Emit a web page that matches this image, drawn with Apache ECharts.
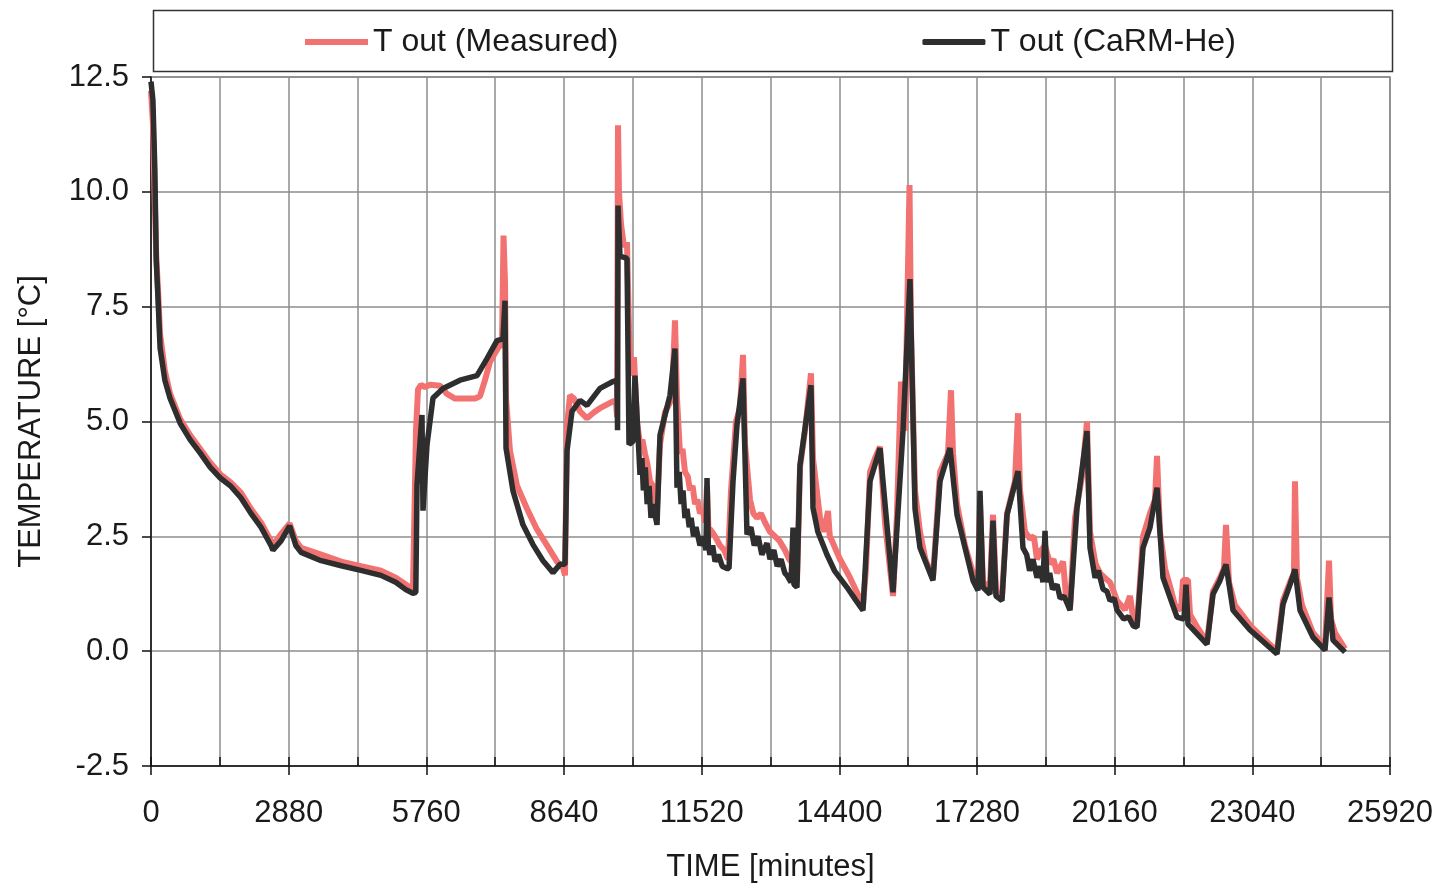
<!DOCTYPE html>
<html>
<head>
<meta charset="utf-8">
<script src="https://cdn.jsdelivr.net/npm/echarts@6/dist/echarts.min.js"></script>
<style>
html,body{margin:0;padding:0;background:#fff;}
#chart{width:1439px;height:888px;}
</style>
</head>
<body>
<div id="chart"></div>
<script>
// Time [minutes] / temperature [°C] pairs
const measuredTime = [0,40,80,110,150,190,290,400,610,820,1030,1240,1450,1660,1880,2090,2300,2510,2550,2720,2900,3030,3140,3560,3980,4390,4810,5120,5330,5480,
5502,5544,5586,5648,5732,5837,6046,6193,6360,6778,6883,6987,7092,7259,7343,7375,7406,7427,7510,7657,7866,8075,8347,8494,8619,8661,
8703,8766,8849,8975,9121,9268,9393,9665,9728,9749,9770,9790,9832,9895,9958,10000,10042,10104,10167,10230,10280,10334,10380,10439,10500,10586,
10648,10753,10899,10962,11004,11067,11120,11172,11230,11276,11330,11381,11430,11485,11540,11590,11632,11660,11736,11800,11904,11990,12071,
12134,12238,12322,12385,12427,12531,12600,12678,12760,12845,12950,13054,13150,13263,13350,13431,13514,13577,13682,13807,13849,13995,14080,14163,14200,14247,14330,14414,14520,14623,14760,14895,
14958,15041,15146,15251,15355,15523,15606,15690,15774,15868,15899,15983,16087,16200,16359,16506,16673,16736,16778,16862,17029,17196,17301,17343,17405,17552,17615,17677,17803,
17908,18075,18138,18180,18284,18389,18470,18535,18620,18703,18808,18880,18954,19080,19143,19226,19330,19477,19581,19644,19760,19853,19950,20063,20140,20209,20376,20481,20550,20627,
20753,20899,21004,21046,21108,21213,21320,21422,21548,21589,21694,21736,21900,22092,22217,22363,22447,22489,22552,22677,23003,23300,23556,
23681,23828,23911,23932,23974,24079,24309,24560,24644,24686,24769,24978];
const measuredTemp = [12.2,11.5,9.8,8.6,7.8,6.9,6.1,5.6,5.05,4.7,4.4,4.1,3.85,3.68,3.45,3.1,2.8,2.4,2.3,2.55,2.78,2.4,2.25,2.1,1.95,1.85,1.75,1.6,1.45,1.35,
2.5,4.8,5.7,5.8,5.75,5.8,5.78,5.6,5.5,5.5,5.55,5.9,6.3,6.6,6.7,9.05,8.0,5.5,4.36,3.6,3.1,2.65,2.2,1.95,1.82,1.65,
4.9,5.57,5.5,5.22,5.07,5.2,5.29,5.44,5.44,5.1,11.45,10.0,9.3,8.8,8.9,7.0,6.0,6.4,5.0,4.5,4.6,4.3,4.1,3.7,3.6,3.1,
4.5,5.2,5.5,7.2,5.5,4.3,4.4,3.9,3.8,3.5,3.6,3.2,3.3,3.0,3.1,2.8,3.6,2.7,2.6,2.5,2.3,2.2,2.0,
3.5,5.0,5.3,6.45,4.5,3.3,3.0,2.9,3.0,2.8,2.6,2.5,2.4,2.2,2.0,1.9,1.5,4.0,4.8,6.05,4.2,2.9,2.6,3.05,2.5,2.4,2.2,2.0,1.8,1.6,1.3,1.0,
1.8,3.9,4.2,4.45,2.8,1.2,3.0,5.87,4.8,10.15,7.0,3.5,2.6,2.0,1.6,3.9,4.3,5.68,4.3,3.2,2.3,1.7,1.4,3.2,1.5,1.4,2.97,1.3,1.2,
3.0,3.7,5.18,3.5,2.6,2.45,2.5,2.0,2.2,2.3,1.9,2.0,1.7,1.95,1.2,0.95,2.9,3.8,5.0,2.6,1.9,1.7,1.6,1.5,1.3,1.1,0.9,1.2,0.7,0.55,
2.5,3.0,3.3,4.25,2.6,1.8,1.4,1.0,0.9,1.55,1.55,0.8,0.5,0.2,1.3,1.6,1.8,2.75,1.5,1.0,0.55,0.25,0.0,
1.1,1.5,1.7,3.7,1.6,1.0,0.4,0.1,1.97,0.7,0.4,0.05];

const modelTime = [0,40,80,110,150,190,290,400,610,820,1030,1240,1450,1660,1880,2090,2300,2510,2550,2720,2900,3030,3140,3560,3980,4390,4810,5120,5330,5480,5540,
5565,5669,5690,5774,5899,6109,6464,6820,7029,7238,7364,7406,7427,7573,7782,7991,8201,8410,8556,8661,
8703,8807,8975,9121,9393,9665,9749,9760,9770,9811,9958,10000,10083,10125,10230,10270,10300,10340,10380,10420,10460,10502,10586,
10648,10857,10962,11004,11050,11090,11130,11170,11213,11260,11300,11350,11400,11485,11550,11610,11632,11660,11694,11750,11800,11870,11950,12050,12092,
12176,12259,12385,12468,12550,12620,12700,12780,12887,12950,13030,13100,13180,13260,13305,13389,13431,13450,13514,
13577,13807,13849,13950,14142,14300,14560,14750,14895,15041,15251,15523,15732,15878,15983,16087,16359,16506,16715,16862,17196,17301,17343,17405,17552,17615,17677,17803,
17908,18138,18242,18320,18380,18450,18535,18600,18661,18703,18745,18800,18860,18954,19020,19100,19226,
19372,19581,19644,19750,19820,19916,20000,20063,20150,20209,20350,20450,20550,20627,
20753,20899,21046,21171,21464,21610,21652,21694,22092,22217,22363,22489,22636,22991,23556,
23681,23828,23932,24037,24309,24560,24644,24727,24978];
const modelTemp = [12.4,12.0,10.5,8.5,7.6,6.6,5.9,5.5,4.96,4.6,4.31,4.0,3.77,3.6,3.34,3.0,2.7,2.3,2.2,2.4,2.73,2.3,2.15,1.97,1.86,1.76,1.65,1.5,1.34,1.26,1.28,
3.62,5.14,3.06,4.49,5.51,5.72,5.9,6.0,6.37,6.76,6.8,7.63,4.42,3.49,2.75,2.32,1.97,1.71,1.89,1.89,
4.36,5.22,5.46,5.35,5.72,5.87,5.9,4.81,9.7,8.6,8.55,4.5,4.57,6.0,3.84,4.2,3.5,4.0,3.2,3.6,2.9,3.2,2.75,
4.7,5.57,6.59,3.56,3.9,3.2,3.5,2.9,3.1,2.7,2.9,2.5,2.7,2.3,2.5,2.2,3.77,2.3,2.1,2.3,1.95,2.1,1.85,1.8,1.8,
3.7,4.92,5.94,2.54,2.7,2.3,2.5,2.1,2.35,2.0,2.2,1.85,2.0,1.7,1.65,1.5,2.69,1.45,1.39,
4.05,5.79,3.12,2.6,2.1,1.75,1.39,1.1,0.89,3.7,4.42,1.28,4.8,8.1,3.1,2.25,1.54,3.7,4.42,2.97,1.54,1.32,3.49,1.39,1.24,2.84,1.2,1.1,
2.97,3.92,2.25,2.1,1.75,2.0,1.6,1.85,1.5,2.62,1.5,1.7,1.35,1.45,1.15,1.2,0.89,
3.12,4.79,2.25,1.6,1.75,1.35,1.3,1.1,1.15,0.9,0.7,0.75,0.55,0.52,
2.25,2.69,3.56,1.6,0.74,0.7,1.45,0.59,0.15,1.24,1.54,1.89,0.89,0.46,-0.06,
1.02,1.45,1.78,0.89,0.3,0.02,1.17,0.24,-0.02];

const xTicks = [0,2880,5760,8640,11520,14400,17280,20160,23040,25920];
const yTicks = [-2.5,0,2.5,5,7.5,10,12.5];

const measured = measuredTime.map((t,i)=>[t,measuredTemp[i]]);
const model = modelTime.map((t,i)=>[t,modelTemp[i]]);

const FONT = '"Liberation Sans", Arial, sans-serif';
const chart = echarts.init(document.getElementById('chart'));
chart.setOption({
  animation:false,
  backgroundColor:'#fff',
  textStyle:{fontFamily:FONT},
  graphic:[{type:'rect',left:151,top:8,shape:{width:1239,height:61},style:{fill:'none',stroke:'#333',lineWidth:1.5},z:0}],
  legend:{
    top:26,left:305,padding:0,itemWidth:63,itemHeight:6,itemGap:304,
    textStyle:{fontSize:32,color:'#1a1a1a',fontFamily:FONT},
    data:[{name:'T out (Measured)',icon:'rect'},{name:'T out (CaRM-He)',icon:'roundRect'}]
  },
  grid:{left:151,right:49,top:77,bottom:119,show:true,borderColor:'#888',borderWidth:1.5},
  xAxis:[{
    type:'value',min:xTicks[0],max:xTicks[xTicks.length-1],interval:xTicks[1]-xTicks[0],
    name:'TIME [minutes]',nameLocation:'middle',nameGap:86,
    nameTextStyle:{fontSize:31,color:'#1a1a1a',fontFamily:FONT},
    axisLine:{show:true,onZero:false,lineStyle:{color:'#111',width:1.5}},
    axisTick:{show:true,inside:false,length:9,lineStyle:{color:'#111',width:1.5}},
    axisLabel:{fontSize:31,color:'#1a1a1a',margin:32,fontFamily:FONT,showMaxLabel:true,showMinLabel:true,formatter:v=>String(v)},
    splitLine:{show:false}
  },{
    type:'value',min:xTicks[0],max:xTicks[xTicks.length-1],interval:(xTicks[1]-xTicks[0])/2,
    position:'bottom',
    axisLine:{show:false,onZero:false},
    axisTick:{show:true,inside:true,length:9,lineStyle:{color:'#111',width:1.5}},
    axisLabel:{show:false},
    splitLine:{show:true,lineStyle:{color:'#8c8c8c',width:1.5}}
  }],
  yAxis:{
    type:'value',min:yTicks[0],max:yTicks[yTicks.length-1],interval:yTicks[1]-yTicks[0],
    name:'TEMPERATURE [°C]',nameLocation:'middle',nameGap:104,
    nameTextStyle:{fontSize:31,color:'#1a1a1a',fontFamily:FONT},
    axisLine:{show:true,onZero:false,lineStyle:{color:'#111',width:1.5}},
    axisTick:{show:true,inside:false,length:9,lineStyle:{color:'#111',width:1.5}},
    axisLabel:{fontSize:31,color:'#1a1a1a',margin:22,fontFamily:FONT,formatter:v=>v.toFixed(1)},
    splitLine:{show:true,lineStyle:{color:'#8c8c8c',width:1.5}}
  },
  series:[{
    name:'T out (Measured)',type:'line',xAxisIndex:0,data:measured,showSymbol:false,symbol:'none',
    lineStyle:{color:'#f27272',width:6},itemStyle:{color:'#f27272'},z:2
  },{
    name:'T out (CaRM-He)',type:'line',xAxisIndex:0,data:model,showSymbol:false,symbol:'none',
    lineStyle:{color:'#2e2e2e',width:5.5},itemStyle:{color:'#2e2e2e'},z:3
  }]
});
</script>
</body>
</html>
